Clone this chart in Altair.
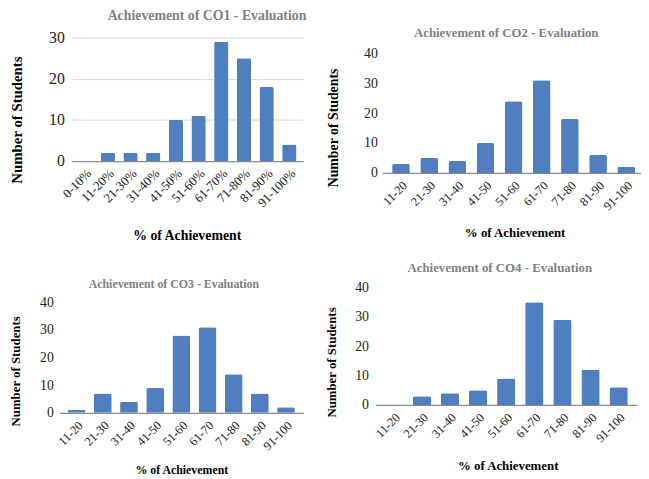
import altair as alt
import pandas as pd

labels_co1 = ["0-10%", "11-20%", "21-30%", "31-40%", "41-50%", "51-60%", "61-70%", "71-80%", "81-90%", "91-100%"]
values_co1 = [0, 2, 2, 2, 10, 11, 29, 25, 18, 4]

labels_co = ["11-20", "21-30", "31-40", "41-50", "51-60", "61-70", "71-80", "81-90", "91-100"]
values_co2 = [3, 5, 4, 10, 24, 31, 18, 6, 2]
values_co3 = [1, 7, 4, 9, 28, 31, 14, 7, 2]
values_co4 = [0, 3, 4, 5, 9, 35, 29, 12, 6]

titles = ["Achievement of CO1  - Evaluation", "Achievement of CO2  - Evaluation",
          "Achievement of CO3  - Evaluation", "Achievement of CO4  - Evaluation"]
y_ticks_co1 = [0, 10, 20, 30]
y_ticks = [0, 10, 20, 30, 40]

FONT = "Liberation Serif"
BAR = "#4F7FC0"
W, H = 641, 471


def panel(labels, values, title, xr, yr, ymax, yticks, pad_in, pad_out,
          title_xy, title_size, ytitle_xy, ytitle_size, xtitle_xy, xtitle_size,
          ylab_size, ylab_pad, xlab_size):
    df = pd.DataFrame({"range": labels, "students": values})
    xscale = alt.Scale(range=xr, paddingInner=pad_in, paddingOuter=pad_out)
    yscale = alt.Scale(domain=[0, ymax], nice=False, range=yr)
    bars = alt.Chart(df).mark_bar(
        color=BAR, cornerRadiusTopLeft=2, cornerRadiusTopRight=2
    ).encode(
        x=alt.X("range:N", sort=labels, title="% of Achievement", scale=xscale,
                axis=alt.Axis(orient="bottom", offset=yr[0] - H, labelAngle=-45,
                              labelFont=FONT, labelFontSize=xlab_size, labelColor="#222222",
                              labelPadding=6, ticks=False, domainColor="#8c8c8c",
                              domainWidth=1.2, grid=False,
                              titleFont=FONT, titleFontSize=xtitle_size, titleFontWeight="bold",
                              titleColor="#000000", titleX=xtitle_xy[0],
                              titleY=xtitle_xy[1] - yr[0], titleBaseline="middle",
                              titleAlign="center")),
        y=alt.Y("students:Q", title="Number of Students", scale=yscale,
                axis=alt.Axis(orient="left", offset=-xr[0], values=yticks,
                              labelFont=FONT, labelFontSize=ylab_size, labelColor="#222222",
                              labelPadding=ylab_pad, ticks=False, domain=False,
                              gridColor="#d9d9d9", gridWidth=1,
                              titleFont=FONT, titleFontSize=ytitle_size, titleFontWeight="bold",
                              titleColor="#000000", titleX=ytitle_xy[0] - xr[0],
                              titleY=ytitle_xy[1], titleBaseline="middle",
                              titleAlign="center", titleAngle=270))
    )
    head = alt.Chart(df).mark_bar(opacity=0).encode(
        x=alt.X("range:N", sort=labels, title=title, scale=xscale,
                axis=alt.Axis(orient="top", labels=False, ticks=False, domain=False,
                              grid=False, titleFont=FONT, titleFontSize=title_size,
                              titleFontWeight="bold", titleColor="#808080",
                              titleX=title_xy[0], titleY=title_xy[1],
                              titleBaseline="middle", titleAlign="center")),
        y=alt.Y("students:Q", scale=yscale, axis=None)
    )
    return [bars, head]


layers = []
layers += panel(labels_co1, values_co1, titles[0], [64, 299], [152, 27], 30, y_ticks_co1,
                0.37, 0.3, (201, 5), 14, (9, 110), 15, (181, 227), 14, 16, 7, 13)
layers += panel(labels_co, values_co2, titles[1], [379, 645], [164, 43], 40, y_ticks,
                0.37, 0.35, (504, 22), 13, (329.5, 118), 14, (513, 224), 13, 14, 5, 12.5)
layers += panel(labels_co, values_co3, titles[2], [52, 299], [407, 295], 40, y_ticks,
                0.32, 0.32, (167.5, 276.5), 12, (7.5, 364.5), 13, (175.5, 464), 12, 14, 6, 12.5)
layers += panel(labels_co, values_co4, titles[3], [372, 637], [399, 280], 40, y_ticks,
                0.35, 0.33, (497.5, 260), 13, (328, 355.5), 13, (506, 460), 13, 14, 7, 12.5)

chart = alt.layer(*layers).resolve_scale(
    x="independent", y="independent"
).resolve_axis(
    x="independent", y="independent"
).properties(
    width=W, height=H, padding=0, background="white",
    autosize=alt.AutoSizeParams(type="none")
).configure_view(stroke=None)

chart.save("out.html", embed_options={"renderer": "svg", "actions": False})
